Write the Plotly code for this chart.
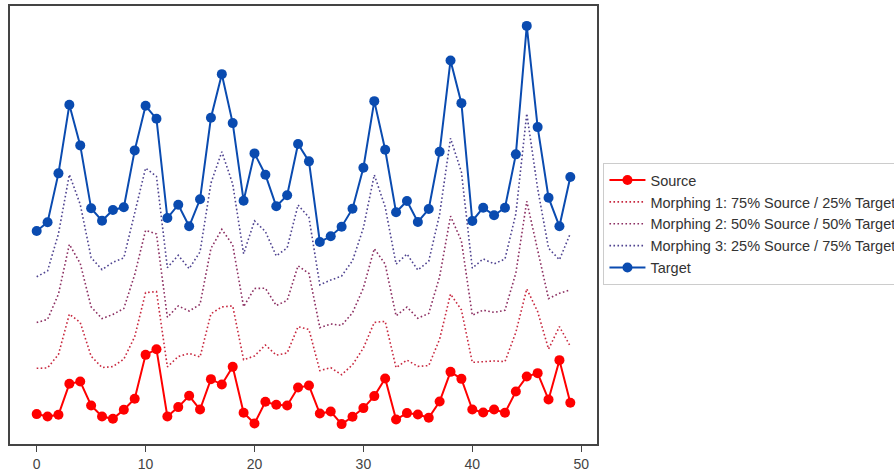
import plotly.graph_objects as go

x_vals = list(range(50))

# Values (arbitrary units, higher = up)
source_px = [414.3, 416.7, 415.0, 384.0, 381.7, 405.7, 416.7, 419.0, 410.0, 399.0,
             355.0, 349.3, 416.7, 407.3, 396.0, 409.7, 379.3, 384.7, 367.0, 413.0,
             423.7, 402.0, 405.0, 405.7, 387.7, 385.7, 413.7, 411.7, 424.3, 417.0,
             408.3, 396.3, 378.7, 419.7, 413.3, 414.7, 418.0, 401.7, 372.0, 379.0,
             409.7, 412.7, 409.7, 413.0, 391.7, 376.7, 373.3, 399.7, 360.3, 403.0]
target_px = [231.0, 222.3, 173.3, 104.7, 145.3, 208.3, 220.7, 210.0, 207.3, 150.3,
             105.7, 118.7, 218.0, 204.7, 226.3, 199.3, 117.7, 74.0, 123.0, 200.7,
             153.3, 174.7, 206.3, 195.3, 144.0, 161.3, 242.0, 236.3, 226.7, 208.7,
             167.7, 101.0, 149.7, 212.3, 201.0, 222.0, 209.0, 151.7, 60.3, 103.0,
             221.0, 207.7, 215.3, 207.7, 154.3, 25.7, 127.0, 197.7, 226.3, 177.0]

source = [450 - v for v in source_px]
target = [450 - v for v in target_px]

morph_weights = [0.75, 0.50, 0.25]
morph_names = ["Morphing 1: 75% Source / 25% Target",
               "Morphing 2: 50% Source / 50% Target",
               "Morphing 3: 25% Source / 75% Target"]
morph_colors = ["#c8283f", "#8c2f62", "#4f4390"]

x_ticks = [0, 10, 20, 30, 40, 50]

fig = go.Figure()
fig.add_trace(go.Scatter(x=x_vals, y=source, name="Source", mode="lines+markers",
                         line=dict(color="#ff0000", width=2),
                         marker=dict(color="#ff0000", size=10)))
for w, name, col in zip(morph_weights, morph_names, morph_colors):
    morph = [w * s + (1 - w) * t for s, t in zip(source, target)]
    fig.add_trace(go.Scatter(x=x_vals, y=morph, name=name, mode="lines",
                             line=dict(color=col, width=1.6, dash="1.6px,2.4px")))
fig.add_trace(go.Scatter(x=x_vals, y=target, name="Target", mode="lines+markers",
                         line=dict(color="#0a4bb0", width=2),
                         marker=dict(color="#0a4bb0", size=10)))

ymin = min(min(source), min(target))
ymax = max(max(source), max(target))
pad = 0.05 * (ymax - ymin)

fig.update_layout(
    width=894, height=474,
    margin=dict(l=10, r=297, t=6, b=30, autoexpand=False),
    paper_bgcolor="white", plot_bgcolor="white",
    font=dict(family="Liberation Sans, Arial, sans-serif", size=14, color="#333333"),
    showlegend=True,
    legend=dict(x=1.011, y=0.502, xanchor="left", yanchor="middle",
                bordercolor="#cccccc", borderwidth=1, bgcolor="white",
                itemwidth=36,
                font=dict(size=14.5, color="#333333"), tracegroupgap=0),
    xaxis=dict(range=[-2.45, 51.45], tickvals=x_ticks, ticks="outside", ticklen=6,
               tickwidth=1.3, tickcolor="#444444", showgrid=False, zeroline=False,
               showline=True, linecolor="#444444", linewidth=1.6, mirror=True,
               tickfont=dict(size=14, color="#444444")),
    yaxis=dict(range=[ymin - pad, ymax + pad], showticklabels=False, ticks="",
               showgrid=False, zeroline=False, showline=True, linecolor="#444444",
               linewidth=1.6, mirror=True),
)

fig.write_html("out.html", config={"displayModeBar": False},
               post_script="document.body.style.margin='0px';")
